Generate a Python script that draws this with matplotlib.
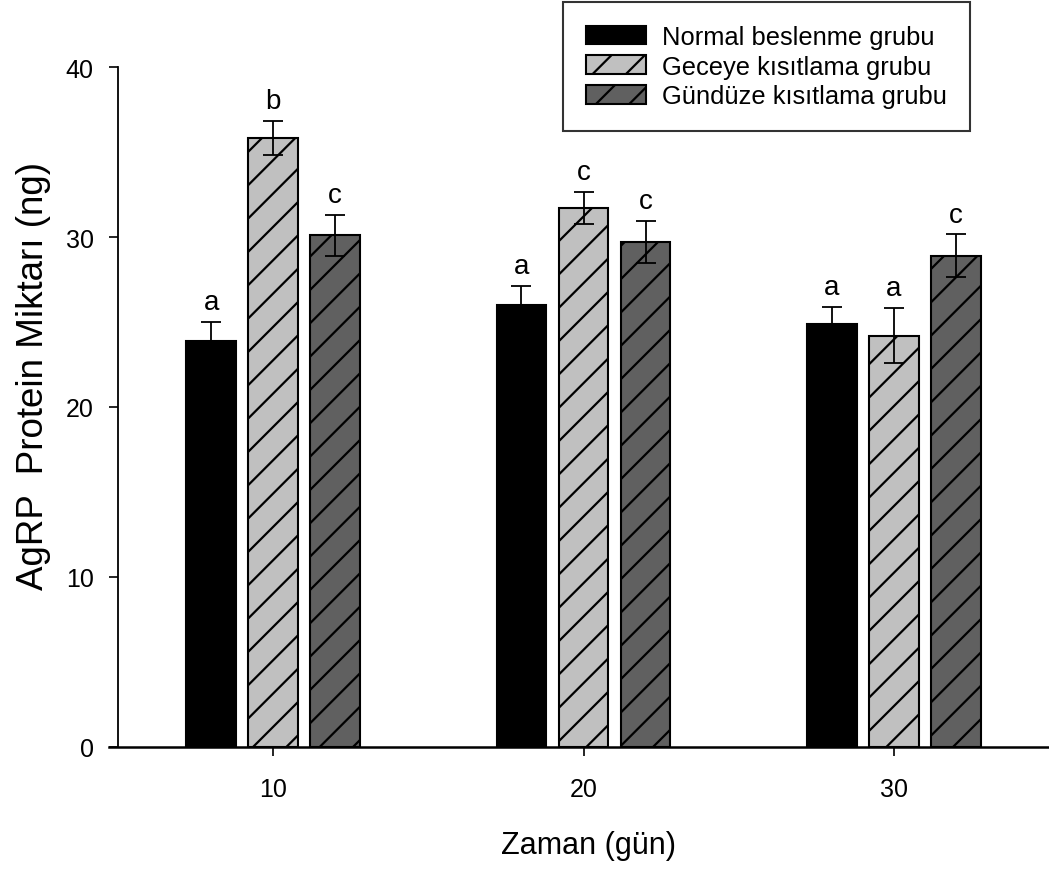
import numpy as np
import matplotlib.pyplot as plt

plt.rcParams['font.family'] = ['Liberation Sans', 'DejaVu Sans']
plt.rcParams['hatch.linewidth'] = 1.6

days = [10, 20, 30]
labels = ['Normal beslenme grubu', 'Geceye kısıtlama grubu', 'Gündüze kısıtlama grubu']
normal = [23.9, 26.0, 24.9]
normal_err = [1.1, 1.1, 1.0]
gece = [35.8, 31.7, 24.2]
gece_err = [1.0, 0.95, 1.6]
gunduz = [30.1, 29.7, 28.9]
gunduz_err = [1.2, 1.25, 1.25]
letters = [['a', 'a', 'a'], ['b', 'c', 'a'], ['c', 'c', 'c']]

colors = ['black', '#c0c0c0', '#606060']
hatches = [None, '/', '/']
offsets = [-2, 0, 2]

fig = plt.figure(figsize=(10.49, 8.7), dpi=100)
ax = fig.add_axes([118 / 1049, 122 / 870, 931 / 1049, 680 / 870])

x = np.array(days, dtype=float)
series = [(normal, normal_err), (gece, gece_err), (gunduz, gunduz_err)]
handles = []
for i, (vals, errs) in enumerate(series):
    b = ax.bar(x + offsets[i], vals, width=1.6, color=colors[i], edgecolor='black',
               linewidth=1.5, hatch=hatches[i], label=labels[i], zorder=2)
    handles.append(b)
    ax.errorbar(x + offsets[i], vals, yerr=errs, fmt='none', ecolor='black',
                elinewidth=1.3, capsize=7, capthick=1.3, zorder=3)
    for j in range(len(days)):
        ax.annotate(letters[i][j], (x[j] + offsets[i], vals[j] + errs[j]),
                    xytext=(0, 5), textcoords='offset points',
                    ha='center', va='bottom', fontsize=20)

ax.set_xlim(5, 35)
ax.set_ylim(0, 40)
ax.set_xticks(days)
ax.set_yticks([0, 10, 20, 30, 40])
ax.spines['top'].set_visible(False)
ax.spines['right'].set_visible(False)
ax.spines['left'].set_linewidth(1.3)
ax.spines['bottom'].set_linewidth(1.8)
ax.spines['bottom'].set_bounds(4.7, 35)
ax.tick_params(axis='both', direction='out', length=6.5, width=1.2, labelsize=18)
ax.tick_params(axis='y', pad=11)
ax.tick_params(axis='x', pad=15)

ax.set_xlabel('Zaman (gün)', fontsize=22)
ax.set_ylabel('AgRP  Protein Miktarı (ng)', fontsize=26.5)
ax.xaxis.set_label_coords(0.505, -0.122)
ax.yaxis.set_label_coords(-0.072, 0.547)

leg = fig.legend(handles=handles, labels=labels, loc='upper left',
                 bbox_to_anchor=(563 / 1049, 1 - 3 / 870), fontsize=18.4,
                 frameon=True, fancybox=False, edgecolor='black',
                 handlelength=2.35, handleheight=0.75, handletextpad=0.62,
                 labelspacing=0.22, borderpad=0.9, borderaxespad=0)
leg.get_frame().set_linewidth(1.5)

fig.savefig('out.png', dpi=100)
